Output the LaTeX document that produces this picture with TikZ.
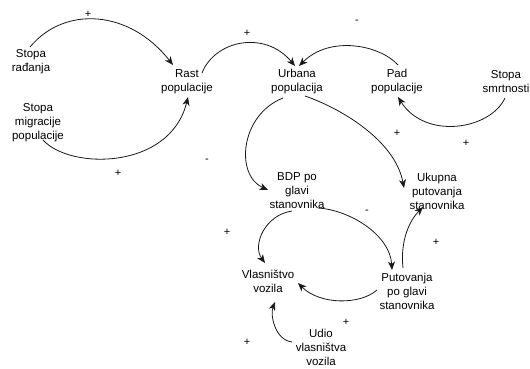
\documentclass[tikz,border=0pt]{standalone}
\usepackage{fontspec}
\setmainfont{Liberation Sans}
\usetikzlibrary{arrows.meta}
\tikzset{
  lbl/.style={align=center, inner sep=0pt, font=\fontsize{11.5}{14}\selectfont},
  sgn/.style={inner sep=0pt, font=\fontsize{11}{12}\selectfont},
  link/.style={line width=0.8pt, draw=black!90, -{Stealth[length=8.5pt,width=7pt,inset=2.5pt]}},
}
\begin{document}
\begin{tikzpicture}[x=1pt,y=-1pt]
\useasboundingbox (0,0) rectangle (530,368);
% nodes
\node[lbl] (sr)  at (31,62)  {Stopa\\rađanja};
\node[lbl] (rp)  at (187,82) {Rast\\populacije};
\node[lbl] (smp) at (38,123) {Stopa\\migracije\\populacije};
\node[lbl] (up)  at (297,82) {Urbana\\populacija};
\node[lbl] (pp)  at (397,82) {Pad\\populacije};
\node[lbl] (ss)  at (506,82) {Stopa\\smrtnosti};
\node[lbl] (bdp) at (297,191) {BDP po\\glavi\\stanovnika};
\node[lbl] (ukp) at (437,191) {Ukupna\\putovanja\\stanovnika};
\node[lbl] (vv)  at (268,281) {Vlasništvo\\vozila};
\node[lbl] (ppg) at (407,291) {Putovanja\\po glavi\\stanovnika};
\node[lbl] (uvv) at (321,347) {Udio\\vlasništva\\vozila};
% connectors
\draw[link] ([shift={(-1,-15)}]sr.center) .. controls (65,5) and (130,10) .. ([shift={(-14,-17)}]rp.center);
\draw[link] ([shift={(5,17)}]smp.center) .. controls (70,170) and (170,170) .. ([shift={(1,15)}]rp.center);
\draw[link] ([shift={(15,-9)}]rp.center) .. controls (215,40) and (265,30) .. ([shift={(-2,-16)}]up.center);
\draw[link] ([shift={(1,-17)}]pp.center) .. controls (380,45) and (330,35) .. ([shift={(2,-16)}]up.center);
\draw[link] ([shift={(-1,16)}]ss.center) .. controls (490,130) and (425,140) .. ([shift={(1,15)}]pp.center);
\draw[link] ([shift={(-14,16)}]up.center) .. controls (240,115) and (235,175) .. ([shift={(-29,-1)}]bdp.center);
\draw[link] ([shift={(8,14)}]up.center) .. controls (340,108) and (395,140) .. ([shift={(-33,-3)}]ukp.center);
\draw[link] ([shift={(21,17)}]bdp.center) .. controls (350,210) and (390,235) .. ([shift={(-15,-21)}]ppg.center);
\draw[link] ([shift={(-5,20)}]bdp.center) .. controls (265,215) and (252,245) .. ([shift={(-3,-18)}]vv.center);
\draw[link] ([shift={(-30,-1)}]ppg.center) .. controls (360,305) and (320,305) .. ([shift={(30,2)}]vv.center);
\draw[link] ([shift={(-4,-23)}]ppg.center) .. controls (400,240) and (410,220) .. ([shift={(-14,16)}]ukp.center);
\draw[link] ([shift={(-29,-5)}]uvv.center) .. controls (275,340) and (270,315) .. ([shift={(7,21)}]vv.center);
% signs
\node[sgn] (s1) at (88,14) {+};
\node[sgn] (s2) at (118,173) {+};
\node[sgn] (s3) at (247,33) {+};
\node[sgn] (s4) at (357,22) {-};
\node[sgn] (s5) at (397,133) {+};
\node[sgn] (s6) at (466,143) {+};
\node[sgn] (s7) at (207,161) {-};
\node[sgn] (s8) at (227,232) {+};
\node[sgn] (s9) at (367,212) {-};
\node[sgn] (s10) at (436,242) {+};
\node[sgn] (s11) at (346,322) {+};
\node[sgn] (s12) at (247,342) {+};
\end{tikzpicture}
\end{document}
